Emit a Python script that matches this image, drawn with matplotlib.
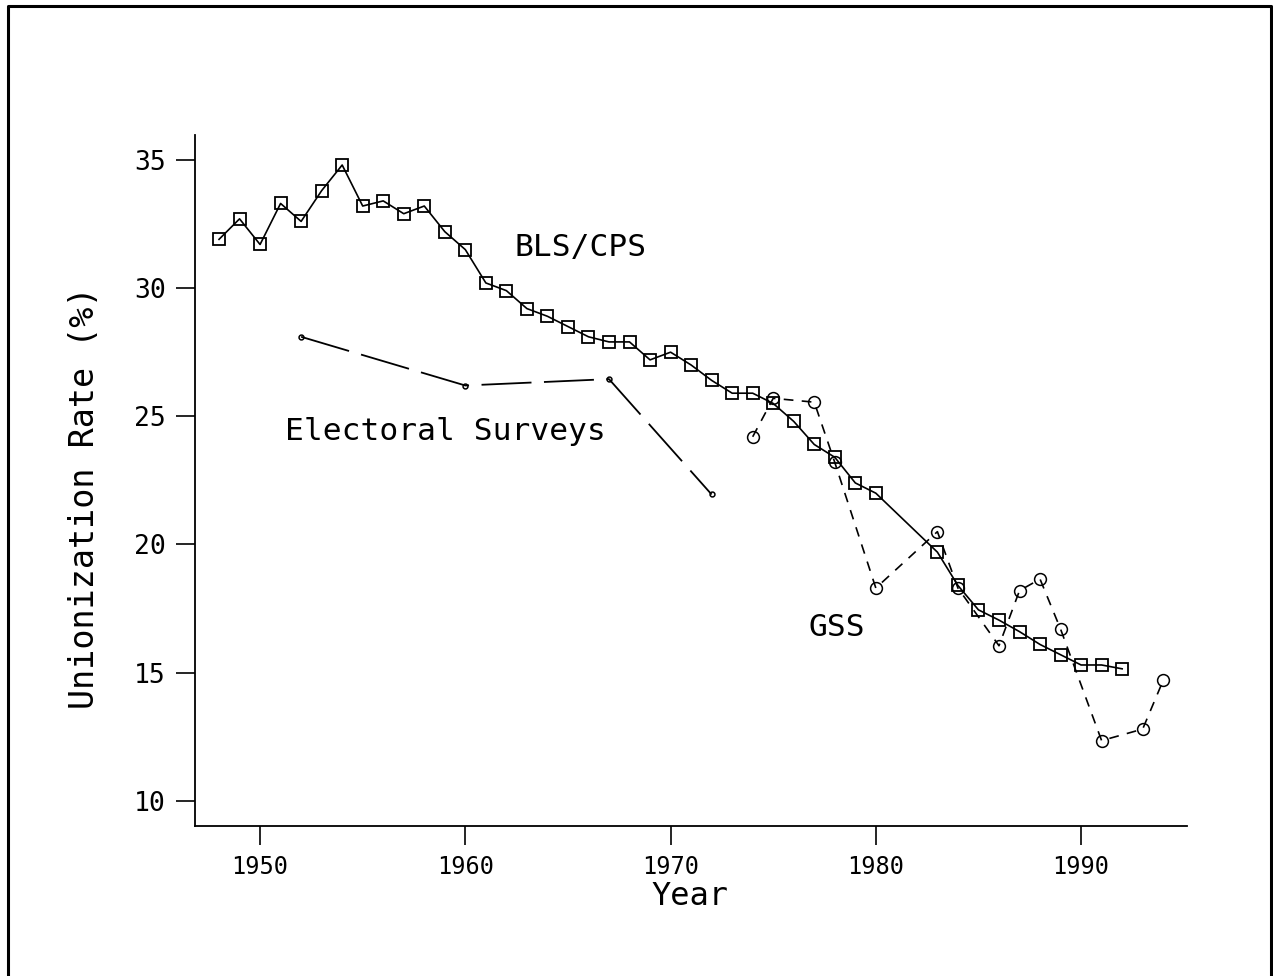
import matplotlib
matplotlib.use("Agg")
from matplotlib import pyplot as plt
from matplotlib.lines import Line2D

# BLS/CPS series
bls_years = [1948, 1949, 1950, 1951, 1952, 1953, 1954, 1955, 1956, 1957,
             1958, 1959, 1960, 1961, 1962, 1963, 1964, 1965, 1966, 1967,
             1968, 1969, 1970, 1971, 1972, 1973, 1974, 1975, 1976, 1977,
             1978, 1979, 1980, 1983, 1984, 1985, 1986, 1987, 1988, 1989,
             1990, 1991, 1992]
bls_rate = [31.9, 32.7, 31.7, 33.3, 32.6, 33.8, 34.8, 33.2, 33.4, 32.9,
            33.2, 32.2, 31.5, 30.2, 29.9, 29.2, 28.9, 28.5, 28.1, 27.9,
            27.9, 27.2, 27.5, 27.0, 26.4, 25.9, 25.9, 25.5, 24.8, 23.9,
            23.4, 22.4, 22.0, 19.7, 18.4, 17.45, 17.05, 16.6, 16.1, 15.7,
            15.3, 15.3, 15.15]

# GSS series
gss_years = [1974, 1975, 1977, 1978, 1980, 1983, 1984, 1986, 1987, 1988,
             1989, 1991, 1993, 1994]
gss_rate = [24.2, 25.7, 25.55, 23.2, 18.3, 20.5, 18.3, 16.05, 18.2, 18.65,
            16.7, 12.35, 12.8, 14.7]

# Electoral surveys
elec_years = [1952, 1960, 1967, 1972]
elec_rate = [28.1, 26.2, 26.45, 21.95]

xticks = [1950, 1960, 1970, 1980, 1990]
yticks = [10, 15, 20, 25, 30, 35]

plt.rcParams['font.family'] = ['DejaVu Sans Mono', 'DejaVu Sans']
plt.rcParams['lines.scale_dashes'] = False

fig = plt.figure(figsize=(12.73, 9.76), dpi=100)
ax = fig.add_axes([195 / 1273, 1 - 826 / 976, 992 / 1273, 691 / 976])

ax.plot(bls_years, bls_rate, color='black', lw=1.2, marker='s', ms=8.5,
        mfc='none', mec='black', mew=1.3)
ax.plot(gss_years, gss_rate, color='black', lw=1.2, dashes=(7, 6),
        marker='o', ms=8.5, mfc='none', mec='black', mew=1.1)
ax.plot(elec_years, elec_rate, color='black', lw=1.3, dashes=(36, 9),
        marker='o', ms=3.5, mfc='none', mec='black', mew=1.1)

# Series labels
ax.text(1962.4, 31.6, "BLS/CPS", fontsize=22.5, ha='left', va='center')
ax.text(1951.2, 24.4, "Electoral Surveys", fontsize=22.5, ha='left', va='center')
ax.text(1976.7, 16.75, "GSS", fontsize=22.5, ha='left', va='center')

ax.set_xlim(1946.83, 1995.16)
ax.set_ylim(9.02, 35.97)
ax.set_xticks(xticks)
ax.set_yticks(yticks)
ax.spines['top'].set_visible(False)
ax.spines['right'].set_visible(False)
ax.spines['left'].set_linewidth(1.3)
ax.spines['bottom'].set_linewidth(1.3)
ax.tick_params(axis='both', direction='out', length=14, width=1.2, pad=7)
ax.tick_params(axis='x', labelsize=17)
ax.tick_params(axis='y', labelsize=19)
ax.set_xlabel("Year", fontsize=23)
ax.set_ylabel("Unionization Rate (%)", fontsize=24)
ax.xaxis.set_label_coords(0.499, -0.079)
ax.yaxis.set_label_coords(-0.095, 0.475)

# Outer frame
fx = [8 / 1273, 8 / 1273, 1271 / 1273, 1271 / 1273]
fy = [-0.01, 1 - 6 / 976, 1 - 6 / 976, -0.01]
fig.add_artist(Line2D(fx, fy, color='black', lw=2.2, transform=fig.transFigure))

fig.savefig("out.png", dpi=100)
